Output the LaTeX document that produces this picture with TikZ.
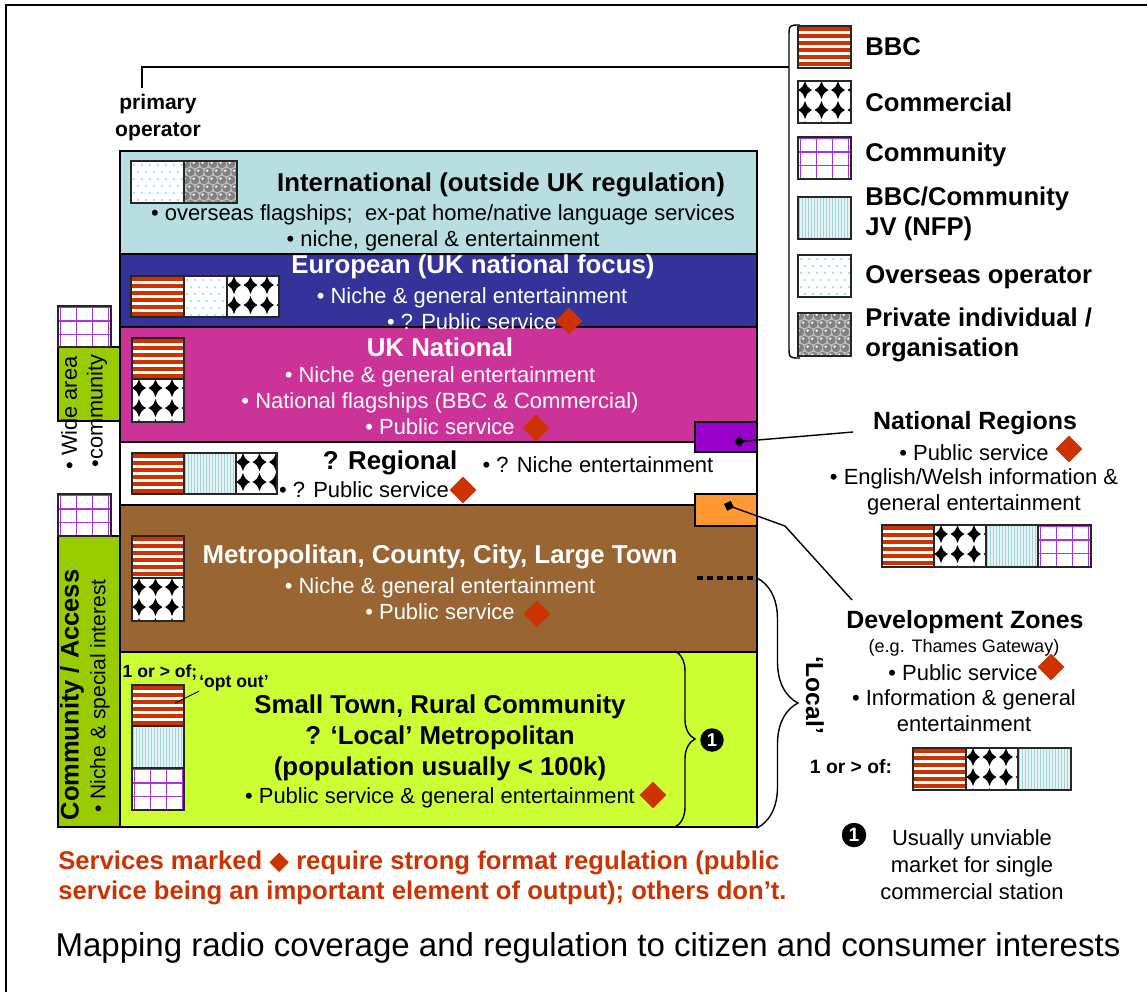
\documentclass[tikz,border=0pt]{standalone}
\usepackage{fontspec}
\setmainfont{Liberation Sans}
\newfontfamily\symfont{DejaVu Sans}
\usepackage{tikz}
\usetikzlibrary{positioning,arrows.meta,shapes.geometric,decorations.pathreplacing}

\definecolor{intlblue}{RGB}{185,222,226}
\definecolor{eurblue}{RGB}{51,51,153}
\definecolor{ukpink}{RGB}{204,51,153}
\definecolor{metrobrown}{RGB}{153,102,51}
\definecolor{townlime}{RGB}{204,255,51}
\definecolor{commgreen}{RGB}{153,204,0}
\definecolor{nrpurple}{RGB}{153,0,204}
\definecolor{dzorange}{RGB}{255,153,51}
\definecolor{psred}{RGB}{204,51,0}
\definecolor{gridpurple}{RGB}{170,51,221}
\definecolor{jvline}{RGB}{160,210,216}
\definecolor{jvback}{RGB}{230,244,245}
\definecolor{dotcyan}{RGB}{60,210,240}
\definecolor{ballgrey}{RGB}{130,130,130}

\tikzset{patframe/.style={draw=black!85, line width=0.6pt},
  comstar/.pic={\fill[black] (-7,0) .. controls (-2.3,-3) .. (0,-9) .. controls (2.3,-3) .. (7,0)
    .. controls (2.3,3) .. (0,9) .. controls (-2.3,3) .. cycle;}}

% owner fills: #1,#2 top left corner, #3 width, #4 height
\newcommand{\patBBC}[4]{%
  \begin{scope}
    \clip (#1,#2) rectangle ++(#3,#4);
    \fill[white] (#1,#2) rectangle ++(#3,#4);
    \foreach \k in {0,...,6}
      \fill[psred] ({#1},{#2+1+7*\k}) rectangle ++(#3,3.6);
  \end{scope}
  \draw[patframe] (#1,#2) rectangle ++(#3,#4);}
\newcommand{\patCom}[4]{%
  \begin{scope}
    \clip (#1,#2) rectangle ++(#3,#4);
    \fill[white] (#1,#2) rectangle ++(#3,#4);
    \foreach \i in {-1,...,3} \foreach \j in {-1,...,2}
      \pic at ({#1+7+16.5*\i},{#2+9+20*\j}) {comstar};
  \end{scope}
  \draw[patframe] (#1,#2) rectangle ++(#3,#4);}
\newcommand{\patCmty}[4]{%
  \begin{scope}
    \clip (#1,#2) rectangle ++(#3,#4);
    \fill[white] (#1,#2) rectangle ++(#3,#4);
    \foreach \k in {0,...,3} {
      \draw[gridpurple, line width=0.9pt] ({#1+2.5+16*\k},{#2}) -- ++(0,#4);
      \draw[gridpurple, line width=0.9pt] ({#1},{#2+1.5+13.5*\k}) -- ++(#3,0);
    }
  \end{scope}
  \draw[patframe] (#1,#2) rectangle ++(#3,#4);}
\newcommand{\patJV}[4]{%
  \begin{scope}
    \clip (#1,#2) rectangle ++(#3,#4);
    \fill[jvback] (#1,#2) rectangle ++(#3,#4);
    \foreach \k in {0,...,17}
      \draw[jvline, line width=0.5pt] ({#1+1.5+3*\k},{#2}) -- ++(0,#4);
  \end{scope}
  \draw[patframe] (#1,#2) rectangle ++(#3,#4);}
\newcommand{\patOvs}[4]{%
  \begin{scope}
    \clip (#1,#2) rectangle ++(#3,#4);
    \fill[white] (#1,#2) rectangle ++(#3,#4);
    \foreach \i in {0,...,6} \foreach \j in {0,...,5}
      \fill[dotcyan] ({#1+3+8*\i+4*mod(\j,2)},{#2+4+7*\j}) circle [radius=0.9];
  \end{scope}
  \draw[patframe] (#1,#2) rectangle ++(#3,#4);}
\newcommand{\patPriv}[4]{%
  \begin{scope}
    \clip (#1,#2) rectangle ++(#3,#4);
    \fill[black!25] (#1,#2) rectangle ++(#3,#4);
    \foreach \i in {0,...,6} \foreach \j in {0,...,5} {
      \fill[ballgrey] ({#1+2+9*\i+4.5*mod(\j,2)},{#2+3+8*\j}) circle [radius=4.2];
      \fill[white] ({#1+0.7+9*\i+4.5*mod(\j,2)},{#2+1.7+8*\j}) circle [radius=1.3];
    }
  \end{scope}
  \draw[patframe] (#1,#2) rectangle ++(#3,#4);}

\begin{document}
\begin{tikzpicture}[x=0.02cm, y=-0.02cm,
    band/.style={draw, line width=0.8pt},
    bandhead/.style={font=\fontsize{14.7}{17.6}\selectfont\bfseries, align=center, inner sep=0pt},
    bandtext/.style={font=\fontsize{12.5}{14.8}\selectfont, align=center, inner sep=0pt},
    psd/.style={diamond, fill=psred, inner sep=0pt, minimum width=0.54cm, minimum height=0.54cm},
    legtext/.style={font=\fontsize{14.6}{16.8}\selectfont\bfseries, anchor=west, align=left, inner sep=0pt},
    sidehead/.style={font=\fontsize{14.2}{17}\selectfont\bfseries, inner sep=0pt},
    smalltext/.style={font=\fontsize{10}{12}\selectfont\bfseries, inner sep=0pt},
    numdot/.style={circle, fill=black, text=white, font=\fontsize{10.5}{10.5}\selectfont\bfseries, inner sep=0pt, minimum size=0.47cm},
    lead/.style={line width=0.8pt, {Diamond[length=6pt,width=6pt]}-}
]
\useasboundingbox (0,0) rectangle (1147,992);
\draw[line width=1pt] (6,992) -- (6,5) -- (1147,5);

% coverage layers
\draw[band, fill=intlblue] (120,151) rectangle (757,254);
\draw[band, fill=eurblue] (120,254) rectangle (757,327);
\draw[band, fill=ukpink] (120,327) rectangle (757,442);
\draw[band, fill=white] (120,442) rectangle (757,505);
\draw[band, fill=metrobrown] (120,505) rectangle (757,652);
\draw[band, fill=townlime] (120,652) rectangle (757,827);
\draw[band, fill=nrpurple] (695,422) rectangle (757,452);
\draw[band, fill=dzorange] (695,494) rectangle (757,526);
\draw[band, fill=commgreen] (58,347) rectangle (120,421);
\draw[band, fill=commgreen] (58,536) rectangle (120,827);

\patOvs{131}{161}{53}{42} \patPriv{184}{161}{53}{42}
\patBBC{131}{276}{53}{41} \patOvs{184}{276}{43}{41} \patCom{227}{276}{52}{41}
\patBBC{132}{338}{52}{41} \patCom{132}{379}{52}{43}
\patBBC{132}{453}{52}{41} \patJV{184}{453}{52}{41} \patCom{236}{453}{41}{41}
\patBBC{132}{536}{52}{42} \patCom{132}{578}{52}{43}
\patBBC{132}{685}{52}{41} \patJV{132}{726}{52}{42} \patCmty{132}{768}{52}{42}
\patCmty{58}{306}{53}{41} \patCmty{58}{494}{53}{42}

\node[bandhead] (intlhead) at (501,185) {International (outside UK regulation)};
\node[bandtext] (intltext) at (443,228) {• overseas flagships;\ \ ex-pat home/native language services\\• niche, general \& entertainment};
\node[bandhead, text=white] (eurhead) at (473,267) {European (UK national focus)};
\node[bandtext, text=white] (eurtext) at (472,309) {• Niche \& general entertainment\\• ? Public service};
\node[psd] (eurps) at (569,321) {};
\node[bandhead, text=white] (ukhead) at (440,347) {UK National};
\node[bandtext, text=white] (uktext) at (440,401) {• Niche \& general entertainment\\• National flagships (BBC \& Commercial)\\• Public service};
\node[psd] (ukps) at (536,428) {};
\node[bandhead] (reghead) at (390,463) {? Regional};
\node[bandtext] (regniche) at (598,465) {• ? Niche entertainment};
\node[bandtext] (regtext) at (364,490) {• ? Public service};
\node[psd] (regps) at (463,490) {};
\node[bandhead, text=white] (metrohead) at (440,557) {Metropolitan, County, City, Large Town};
\node[bandtext, text=white] (metrotext) at (440,599) {• Niche \& general entertainment\\• Public service};
\node[psd] (metrops) at (537,614) {};
\node[bandhead] (townhead) at (440,738) {Small Town, Rural Community\\? ‘Local’ Metropolitan\\(population usually < 100k)};
\node[bandtext] (towntext) at (440,798) {• Public service \& general entertainment};
\node[psd] (townps) at (653,795) {};
\node[smalltext] (townof) at (160,672) {1 or > of;};
\node[smalltext] (optout) at (234,683) {‘opt out’};
\draw[line width=0.5pt] (optout.south west) -- ++(-24,12);

% community columns
\node[rotate=90, font=\fontsize{12.4}{14}\selectfont, inner sep=0pt] (widearea) at (69,413) {• Wide area};
\node[rotate=90, font=\fontsize{12.4}{14}\selectfont, inner sep=0pt] (widecmty) at (97,411) {•community};
\node[rotate=90, font=\fontsize{14.5}{17}\selectfont\bfseries, inner sep=0pt] (access) at (72,695) {Community / Access};
\node[rotate=90, font=\fontsize{12}{14}\selectfont, inner sep=0pt] (niche) at (100,696) {• Niche \& special interest};

% local braces
\draw[line width=2.3pt, dash pattern=on 3.4pt off 2.3pt] (697,578) -- (757,578);
\draw[line width=0.8pt, decorate, decoration={brace, amplitude=0.4cm}] (675,651) -- (675,827);
\node[numdot] (unviable) at (712,740) {1};
\draw[line width=0.8pt, decorate, decoration={brace, amplitude=0.82cm}] (757,578) -- (757,828);
\node[rotate=-90, font=\fontsize{14}{16}\selectfont\bfseries, inner sep=0pt] (localtag) at (815,695) {‘Local’};

% owner key
\coordinate (opjoin) at (142,88);
\coordinate (legjoin) at (789,67);
\node[font=\fontsize{12}{15.4}\selectfont\bfseries, align=center, inner sep=0pt] (primop) at (158,118) {primary\\operator};
\draw[line width=0.8pt] (opjoin) |- (legjoin);
\draw[line width=0.8pt] (800,25) .. controls (789,25) .. (789,37) -- (789,346) .. controls (789,358) .. (800,358);
\patBBC{798}{26}{53}{42} \patCom{798}{81}{53}{42} \patCmty{798}{137}{53}{42}
\patJV{798}{197}{53}{42} \patOvs{798}{255}{53}{42} \patPriv{798}{313}{53}{43}
\node[legtext] (keybbc) at (865,47) {BBC};
\node[legtext] (keycom) at (865,102) {Commercial};
\node[legtext] (keycmty) at (865,155) {Community};
\node[legtext] (keyjv) at (865,214) {BBC/Community\\JV (NFP)};
\node[legtext] (keyovs) at (865,277) {Overseas operator};
\node[legtext] (keypriv) at (865,335) {Private individual /\\organisation};

% national regions
\coordinate (nrmark) at (734,442);
\coordinate (nrend) at (853,432);
\node[sidehead] (nrhead) at (975,423) {National Regions};
\node[bandtext] (nrps) at (974,453) {• Public service};
\node[psd] (nrpsd) at (1069,449) {};
\node[bandtext] (nrtext) at (974,492) {• English/Welsh information \&\\general entertainment};
\patBBC{882}{525}{52}{42} \patCom{934}{525}{52}{42} \patJV{986}{525}{52}{42} \patCmty{1038}{525}{53}{42}
\draw[lead] (nrmark) -- (nrend);

% development zones
\coordinate (dzmark) at (724,504);
\coordinate (dzbend) at (785,526);
\coordinate (dzend) at (852,600);
\node[sidehead] (dzhead) at (965,622) {Development Zones};
\node[font=\fontsize{10.3}{12}\selectfont, inner sep=0pt] (dzeg) at (964,648) {(e.g. Thames Gateway)};
\node[bandtext] (dzps) at (963,673) {• Public service};
\node[psd] (dzpsd) at (1051,667) {};
\node[bandtext] (dztext) at (964,711) {• Information \& general\\entertainment};
\node[font=\fontsize{11}{13}\selectfont\bfseries, inner sep=0pt] (dzof) at (851,767) {1 or > of:};
\patBBC{913}{748}{53}{42} \patCom{966}{748}{52}{42} \patJV{1018}{748}{53}{42}
\draw[lead] (dzmark) -- (dzbend) -- (dzend);

\node[numdot, minimum size=0.49cm, font=\fontsize{11}{11}\selectfont\bfseries] (noteone) at (854,835) {1};
\node[bandtext, font=\fontsize{12.5}{15.4}\selectfont] (notetext) at (972,865) {Usually unviable\\market for single\\commercial station};

\node[font=\fontsize{14.6}{17}\selectfont\bfseries, text=psred, align=left, anchor=west, inner sep=0pt] (psnote) at (58,878) {Services marked {\symfont ◆} require strong format regulation (public\\service being an important element of output); others don’t.};
\node[font=\fontsize{18.8}{22}\selectfont, inner sep=0pt] (caption) at (588,948) {Mapping radio coverage and regulation to citizen and consumer interests};
\end{tikzpicture}
\end{document}
